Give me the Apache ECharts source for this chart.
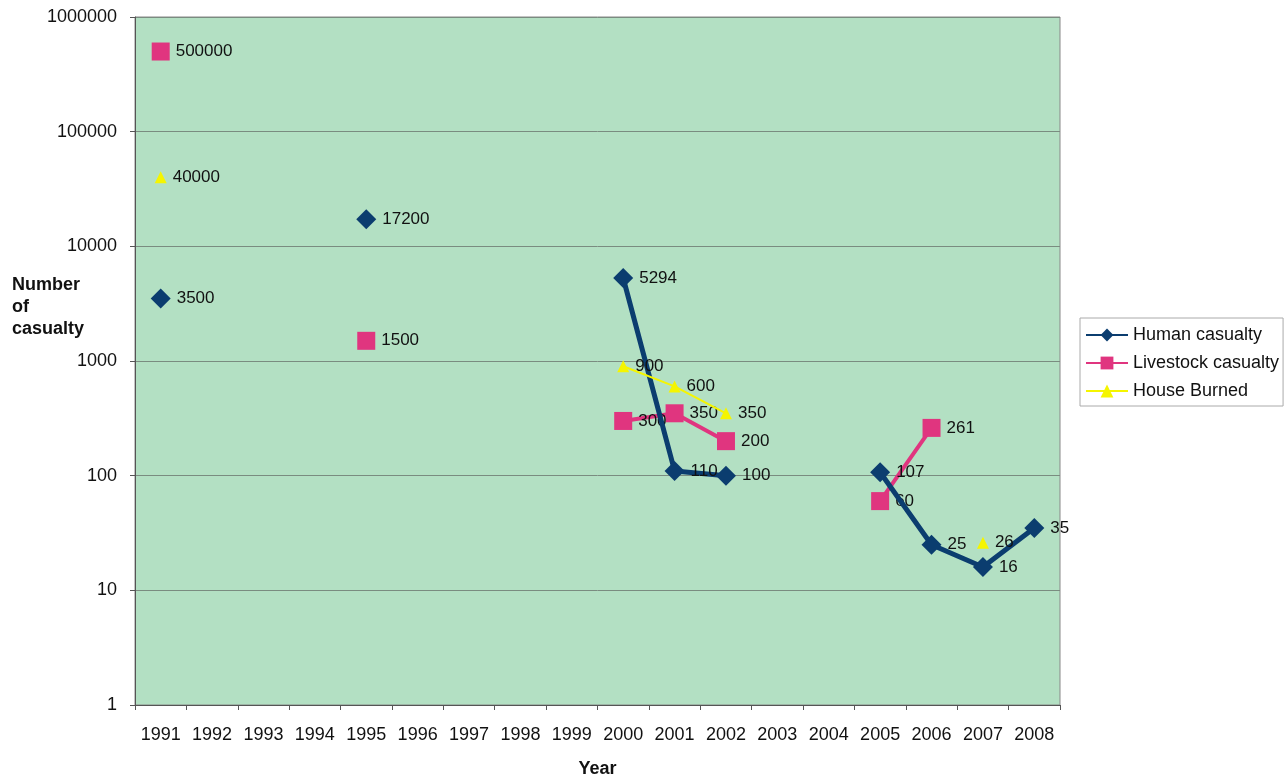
<!DOCTYPE html>
<html><head><meta charset="utf-8">
<script src="https://cdn.jsdelivr.net/npm/echarts@6/dist/echarts.min.js"></script>
<style>html,body{margin:0;padding:0;background:#fff}#c{width:1286px;height:777px}</style>
</head><body><div id="c"></div>
<script>
const years = ['1991','1992','1993','1994','1995','1996','1997','1998','1999','2000','2001','2002','2003','2004','2005','2006','2007','2008'];
const human = [3500,null,null,null,17200,null,null,null,null,5294,110,100,null,null,107,25,16,35];
const livestock = [500000,null,null,null,1500,null,null,null,null,300,350,200,null,null,60,261,null,null];
const house = [40000,null,null,null,null,null,null,null,null,900,600,350,null,null,null,null,26,null];
const yTicks = [1,10,100,1000,10000,100000,1000000];

const chart = echarts.init(document.getElementById('c'));
const font = 'Liberation Sans, Arial, sans-serif';
const lbl = {show:true, position:'right', color:'#111', fontSize:17, fontFamily:font, distance:6};
chart.setOption({
  animation:false,
  grid:{left:135, right:226, top:17, bottom:72, show:true, backgroundColor:'#b3e0c3', borderColor:'#888', borderWidth:1, outerBoundsMode:'none', containLabel:false},
  xAxis:{type:'category', data:years, boundaryGap:true,
    name:'Year', nameLocation:'middle', nameGap:55,
    nameTextStyle:{fontSize:18, fontWeight:'bold', color:'#111', fontFamily:font},
    axisLine:{lineStyle:{color:'#555'}},
    axisTick:{show:true, interval:0, alignWithLabel:false, lineStyle:{color:'#555'}},
    axisLabel:{fontSize:18, interval:0, color:'#111', fontFamily:font, margin:21},
    splitLine:{show:false}},
  yAxis:{type:'log', logBase:10, min:1, max:1000000,
    axisLine:{show:true, lineStyle:{color:'#555'}},
    axisTick:{show:true, lineStyle:{color:'#555'}},
    axisLabel:{fontSize:18, color:'#111', fontFamily:font, margin:18, formatter:v=>String(Math.round(v))},
    splitLine:{show:true, lineStyle:{color:'#7a8c80', width:1}}},
  legend:{orient:'vertical', left:1080, top:318, backgroundColor:'#fff', borderColor:'#aaa', borderWidth:1,
    padding:[8,4,6,5], itemGap:10, itemWidth:42, itemHeight:16,
    textStyle:{fontSize:18, color:'#111', fontFamily:font},
    data:['Human casualty','Livestock casualty','House Burned']},
  graphic:[{type:'text', left:12, top:274, style:{text:'Number\nof\ncasualty', fill:'#111', font:'bold 18px Liberation Sans, Arial, sans-serif', lineHeight:22}}],
  series:[
    {name:'Human casualty', type:'line', data:human, symbol:'diamond', symbolSize:20,
      itemStyle:{color:'#0b3d6f'}, lineStyle:{color:'#0b3d6f', width:5}, label:lbl, z:3},
    {name:'Livestock casualty', type:'line', data:livestock, symbol:'rect', symbolSize:18,
      itemStyle:{color:'#e0357f'}, lineStyle:{color:'#e0357f', width:4}, label:lbl, z:2},
    {name:'House Burned', type:'line', data:house, symbol:'triangle', symbolSize:12,
      itemStyle:{color:'#f5f500'}, lineStyle:{color:'#f5f500', width:2}, label:lbl, z:4}
  ]
});
</script></body></html>
